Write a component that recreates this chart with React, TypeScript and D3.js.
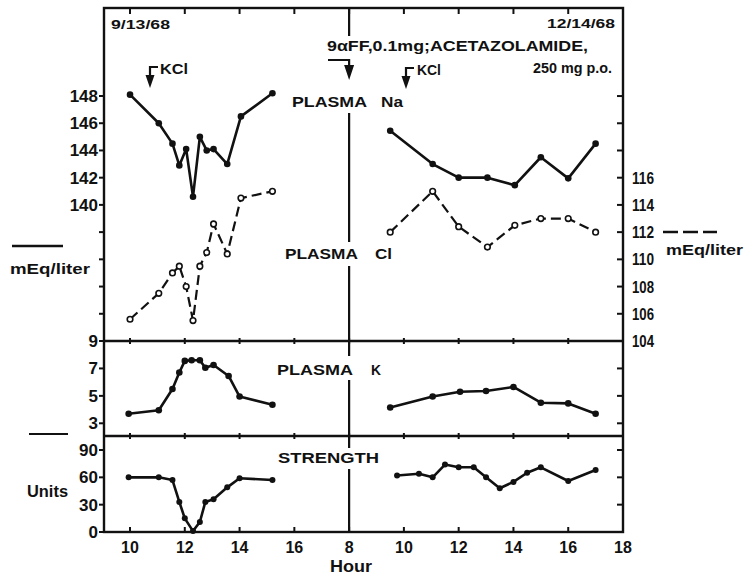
import React from "react";
import * as d3 from "d3";

// hours on each day (clock time); day 2 is drawn after day 1 on one axis
const naClHours1 = [10, 11.05, 11.55, 11.8, 12.05, 12.3, 12.55, 12.8, 13.05, 13.55, 14.05, 15.2];
const naDay1 = [148.1, 146.0, 144.5, 142.9, 144.1, 140.6, 145.0, 144.0, 144.1, 143.0, 146.5, 148.2];
const clDay1 = [105.6, 107.5, 109.0, 109.5, 108.0, 105.5, 109.5, 110.5, 112.6, 110.4, 114.5, 115.0];

const naClHours2 = [9.5, 11.05, 12.0, 13.05, 14.05, 15.0, 16.0, 17.0];
const naDay2 = [145.45, 143.0, 142.0, 142.0, 141.45, 143.5, 141.95, 144.5];
const clDay2 = [112.0, 115.0, 112.4, 110.9, 112.5, 113.0, 113.0, 112.0];

const kHours1 = [9.95, 11.05, 11.55, 11.8, 12.0, 12.25, 12.55, 12.75, 13.05, 13.6, 14.0, 15.2];
const kDay1 = [3.7, 3.95, 5.5, 6.7, 7.55, 7.6, 7.6, 7.05, 7.25, 6.45, 4.95, 4.35];
const kHours2 = [9.5, 11.05, 12.05, 13.0, 14.0, 15.0, 16.0, 17.0];
const kDay2 = [4.15, 4.95, 5.3, 5.35, 5.65, 4.5, 4.45, 3.7];

const sHours1 = [9.95, 11.05, 11.55, 11.8, 12.0, 12.3, 12.55, 12.75, 13.05, 13.55, 14.0, 15.2];
const sDay1 = [60, 60, 57, 33, 15, 1, 11, 33, 36, 49, 59, 57];
const sHours2 = [9.75, 10.55, 11.05, 11.5, 12.0, 12.55, 13.0, 13.5, 14.0, 14.5, 15.0, 16.0, 17.0];
const sDay2 = [62, 64, 60, 74, 71, 71, 60, 48, 55, 65, 71, 56, 68];

// axis ticks
const hourTicks = [10, 12, 14, 16, 18, 20, 22, 24, 26, 28];
const hourLabels = ["10", "12", "14", "16", "8", "10", "12", "14", "16", "18"];
const naTicks = [132, 134, 136, 138, 140, 142, 144, 146, 148];
const naLabels = [140, 142, 144, 146, 148];
const clTicks = [106, 108, 110, 112, 114, 116, 118, 120, 122];
const clLabels = [104, 106, 108, 110, 112, 114, 116];
const kTicks = [3, 5, 7, 9];
const sTicks = [0, 30, 60, 90];

const DAY2 = 10; // day 2 clock hour h sits at h + 10 on the running axis

const FONT = "'Liberation Sans', Arial, sans-serif";

function App() {
  const left = 104;
  const right = 623;
  const top = 8;
  const k0 = 341;
  const s0 = 436;
  const bottom = 532;

  const x = d3.scaleLinear().domain([9.05, 28]).range([left, right]);
  const yNa = d3.scaleLinear().domain([130, 148]).range([k0, 96]);
  const yCl = d3.scaleLinear().domain([104, 116]).range([k0, 177.7]);
  const yK = d3.scaleLinear().domain([3, 9]).range([423.3, k0]);
  const yS = d3.scaleLinear().domain([0, 90]).range([bottom, 450]);

  const pts = (hours: number[], vals: number[], y: any, off: number) =>
    hours.map((h, i) => [x(h + off), y(vals[i])] as [number, number]);
  const line = d3.line();

  const solid = [
    pts(naClHours1, naDay1, yNa, 0),
    pts(naClHours2, naDay2, yNa, DAY2),
    pts(kHours1, kDay1, yK, 0),
    pts(kHours2, kDay2, yK, DAY2),
  ];
  const strength = [pts(sHours1, sDay1, yS, 0), pts(sHours2, sDay2, yS, DAY2)];
  const dashed = [pts(naClHours1, clDay1, yCl, 0), pts(naClHours2, clDay2, yCl, DAY2)];

  const xd = x(18);
  const vSegs = [
    [top, 36],
    [113, 242],
    [266, k0],
    [k0, 356],
    [380, s0],
    [s0, 448],
    [469, bottom],
  ];

  const txt = { fontFamily: FONT, fontWeight: 700, fill: "#111" } as any;

  const kclArrow = (ax: number, ay: number) => (
    <g>
      <path d={`M${ax + 8},${ay} L${ax},${ay} L${ax},${ay + 10}`} fill="none" stroke="#111" strokeWidth={2.2} />
      <path d={`M${ax - 4.5},${ay + 8} L${ax + 4.5},${ay + 8} L${ax},${ay + 21} Z`} fill="#111" />
    </g>
  );

  return (
    <svg width={744} height={575} style={{ display: "block", position: "absolute", left: 0, top: 0, background: "#fff" }}>
      <rect width={744} height={575} fill="#fff" />
      {/* frame and panel dividers */}
      <rect x={left} y={top} width={right - left} height={bottom - top} fill="none" stroke="#111" strokeWidth={2.4} />
      <line x1={left} x2={right} y1={k0} y2={k0} stroke="#111" strokeWidth={2.4} />
      <line x1={left} x2={right} y1={s0} y2={s0} stroke="#111" strokeWidth={2.4} />

      {/* hour ticks on every horizontal line */}
      {hourTicks.map((t) =>
        t === 28 ? null : (
          <g key={"ht" + t} stroke="#111" strokeWidth={2}>
            <line x1={x(t)} x2={x(t)} y1={top} y2={top + 6} />
            <line x1={x(t)} x2={x(t)} y1={k0 - 3} y2={k0 + 3} />
            <line x1={x(t)} x2={x(t)} y1={s0 - 3} y2={s0 + 3} />
            <line x1={x(t)} x2={x(t)} y1={bottom - 5} y2={bottom} />
          </g>
        )
      )}
      {hourTicks.map((t, i) => (
        <text key={"hl" + t} x={x(t)} y={553} textAnchor="middle" fontSize={16} {...txt}>
          {hourLabels[i]}
        </text>
      ))}
      <text x={351} y={572} textAnchor="middle" fontSize={16} {...txt} textLength={42} lengthAdjust="spacingAndGlyphs">Hour</text>

      {/* dividing line at 8 a.m. day 2 */}
      {vSegs.map((s, i) => (
        <line key={"v" + i} x1={xd} x2={xd} y1={s[0]} y2={s[1]} stroke="#111" strokeWidth={2.2} />
      ))}

      {/* left axes */}
      {naTicks.map((v) => (
        <line key={"nt" + v} x1={left - 5} x2={left} y1={yNa(v)} y2={yNa(v)} stroke="#111" strokeWidth={2} />
      ))}
      {naLabels.map((v) => (
        <text key={"nl" + v} x={98} y={yNa(v) + 6} textAnchor="end" fontSize={17} {...txt}>{v}</text>
      ))}
      {kTicks.map((v) => (
        <g key={"kt" + v}>
          <line x1={left - 5} x2={left} y1={yK(v)} y2={yK(v)} stroke="#111" strokeWidth={2} />
          <text x={98} y={yK(v) + 6} textAnchor="end" fontSize={17} {...txt}>{v}</text>
        </g>
      ))}
      {sTicks.map((v) => (
        <g key={"st" + v}>
          <line x1={left - 5} x2={left} y1={yS(v)} y2={yS(v)} stroke="#111" strokeWidth={2} />
          <text x={98} y={yS(v) + 6} textAnchor="end" fontSize={17} {...txt}>{v}</text>
        </g>
      ))}

      {/* right axes */}
      {clTicks.map((v) => (
        <line key={"ct" + v} x1={right - 6} x2={right} y1={yCl(v)} y2={yCl(v)} stroke="#111" strokeWidth={2} />
      ))}
      {clLabels.map((v) => (
        <text key={"cl" + v} x={632} y={yCl(v) + 6} fontSize={17} {...txt} textLength={22} lengthAdjust="spacingAndGlyphs">{v}</text>
      ))}
      {kTicks.filter((v) => v < 9).map((v) => (
        <line key={"rk" + v} x1={right - 6} x2={right} y1={yK(v)} y2={yK(v)} stroke="#111" strokeWidth={2} />
      ))}
      {sTicks.filter((v) => v > 0).map((v) => (
        <line key={"rs" + v} x1={right - 6} x2={right} y1={yS(v)} y2={yS(v)} stroke="#111" strokeWidth={2} />
      ))}

      {/* series */}
      {dashed.map((p, i) => (
        <path key={"d" + i} d={line(p) as string} fill="none" stroke="#111" strokeWidth={2.2} strokeDasharray="10 5" />
      ))}
      {dashed.map((p, i) =>
        p.map((q, j) => <circle key={"dc" + i + "-" + j} cx={q[0]} cy={q[1]} r={2.8} fill="#fff" stroke="#111" strokeWidth={1.6} />)
      )}
      {solid.map((p, i) => (
        <path key={"s" + i} d={line(p) as string} fill="none" stroke="#111" strokeWidth={2.6} strokeLinejoin="round" />
      ))}
      {solid.map((p, i) => p.map((q, j) => <circle key={"sc" + i + "-" + j} cx={q[0]} cy={q[1]} r={3.3} fill="#111" />))}
      {strength.map((p, i) => (
        <path key={"g" + i} d={line(p) as string} fill="none" stroke="#111" strokeWidth={2.6} strokeLinejoin="round" />
      ))}
      {strength.map((p, i) => p.map((q, j) => <circle key={"gc" + i + "-" + j} cx={q[0]} cy={q[1]} r={3} fill="#111" />))}

      {/* dates and annotations */}
      <text x={111} y={29} fontSize={12} {...txt} textLength={59} lengthAdjust="spacingAndGlyphs">9/13/68</text>
      <text x={547} y={28} fontSize={12} {...txt} textLength={68} lengthAdjust="spacingAndGlyphs">12/14/68</text>
      <text x={327} y={51} fontSize={15} {...txt} textLength={261} lengthAdjust="spacingAndGlyphs">9αFF,0.1mg;ACETAZOLAMIDE,</text>
      <text x={533} y={73} fontSize={14} {...txt} textLength={79} lengthAdjust="spacingAndGlyphs">250 mg p.o.</text>
      <path d={`M328,60 L${xd},60 L${xd},66`} fill="none" stroke="#111" strokeWidth={2.2} />
      <path d={`M${xd - 5},65 L${xd + 5},65 L${xd},80 Z`} fill="#111" />
      {kclArrow(150, 67)}
      <text x={160} y={74} fontSize={14} {...txt} textLength={28} lengthAdjust="spacingAndGlyphs">KCl</text>
      {kclArrow(406, 68)}
      <text x={417} y={75} fontSize={14} {...txt} textLength={24} lengthAdjust="spacingAndGlyphs">KCl</text>

      {/* panel labels */}
      <text x={292} y={107} fontSize={15} {...txt} textLength={75} lengthAdjust="spacingAndGlyphs">PLASMA</text>
      <text x={381} y={107} fontSize={15} {...txt} textLength={22} lengthAdjust="spacingAndGlyphs">Na</text>
      <text x={285} y={259} fontSize={15} {...txt} textLength={73} lengthAdjust="spacingAndGlyphs">PLASMA</text>
      <text x={375} y={259} fontSize={15} {...txt} textLength={17} lengthAdjust="spacingAndGlyphs">Cl</text>
      <text x={277} y={375} fontSize={15} {...txt} textLength={76} lengthAdjust="spacingAndGlyphs">PLASMA</text>
      <text x={371} y={375} fontSize={15} {...txt} textLength={10} lengthAdjust="spacingAndGlyphs">K</text>
      <text x={278} y={463} fontSize={15} {...txt} textLength={101} lengthAdjust="spacingAndGlyphs">STRENGTH</text>

      {/* unit labels */}
      <line x1={12} x2={63} y1={246} y2={246} stroke="#111" strokeWidth={2.6} />
      <text x={10} y={274} fontSize={15} {...txt} textLength={80} lengthAdjust="spacingAndGlyphs">mEq/liter</text>
      <line x1={663} x2={717} y1={232} y2={232} stroke="#111" strokeWidth={2.6} strokeDasharray="15 5" />
      <text x={666} y={255} fontSize={14} {...txt} textLength={77} lengthAdjust="spacingAndGlyphs">mEq/liter</text>
      <line x1={29} x2={68} y1={434} y2={434} stroke="#111" strokeWidth={2} />
      <text x={27} y={497} fontSize={16} {...txt} textLength={41} lengthAdjust="spacingAndGlyphs">Units</text>
    </svg>
  );
}

export default App;
